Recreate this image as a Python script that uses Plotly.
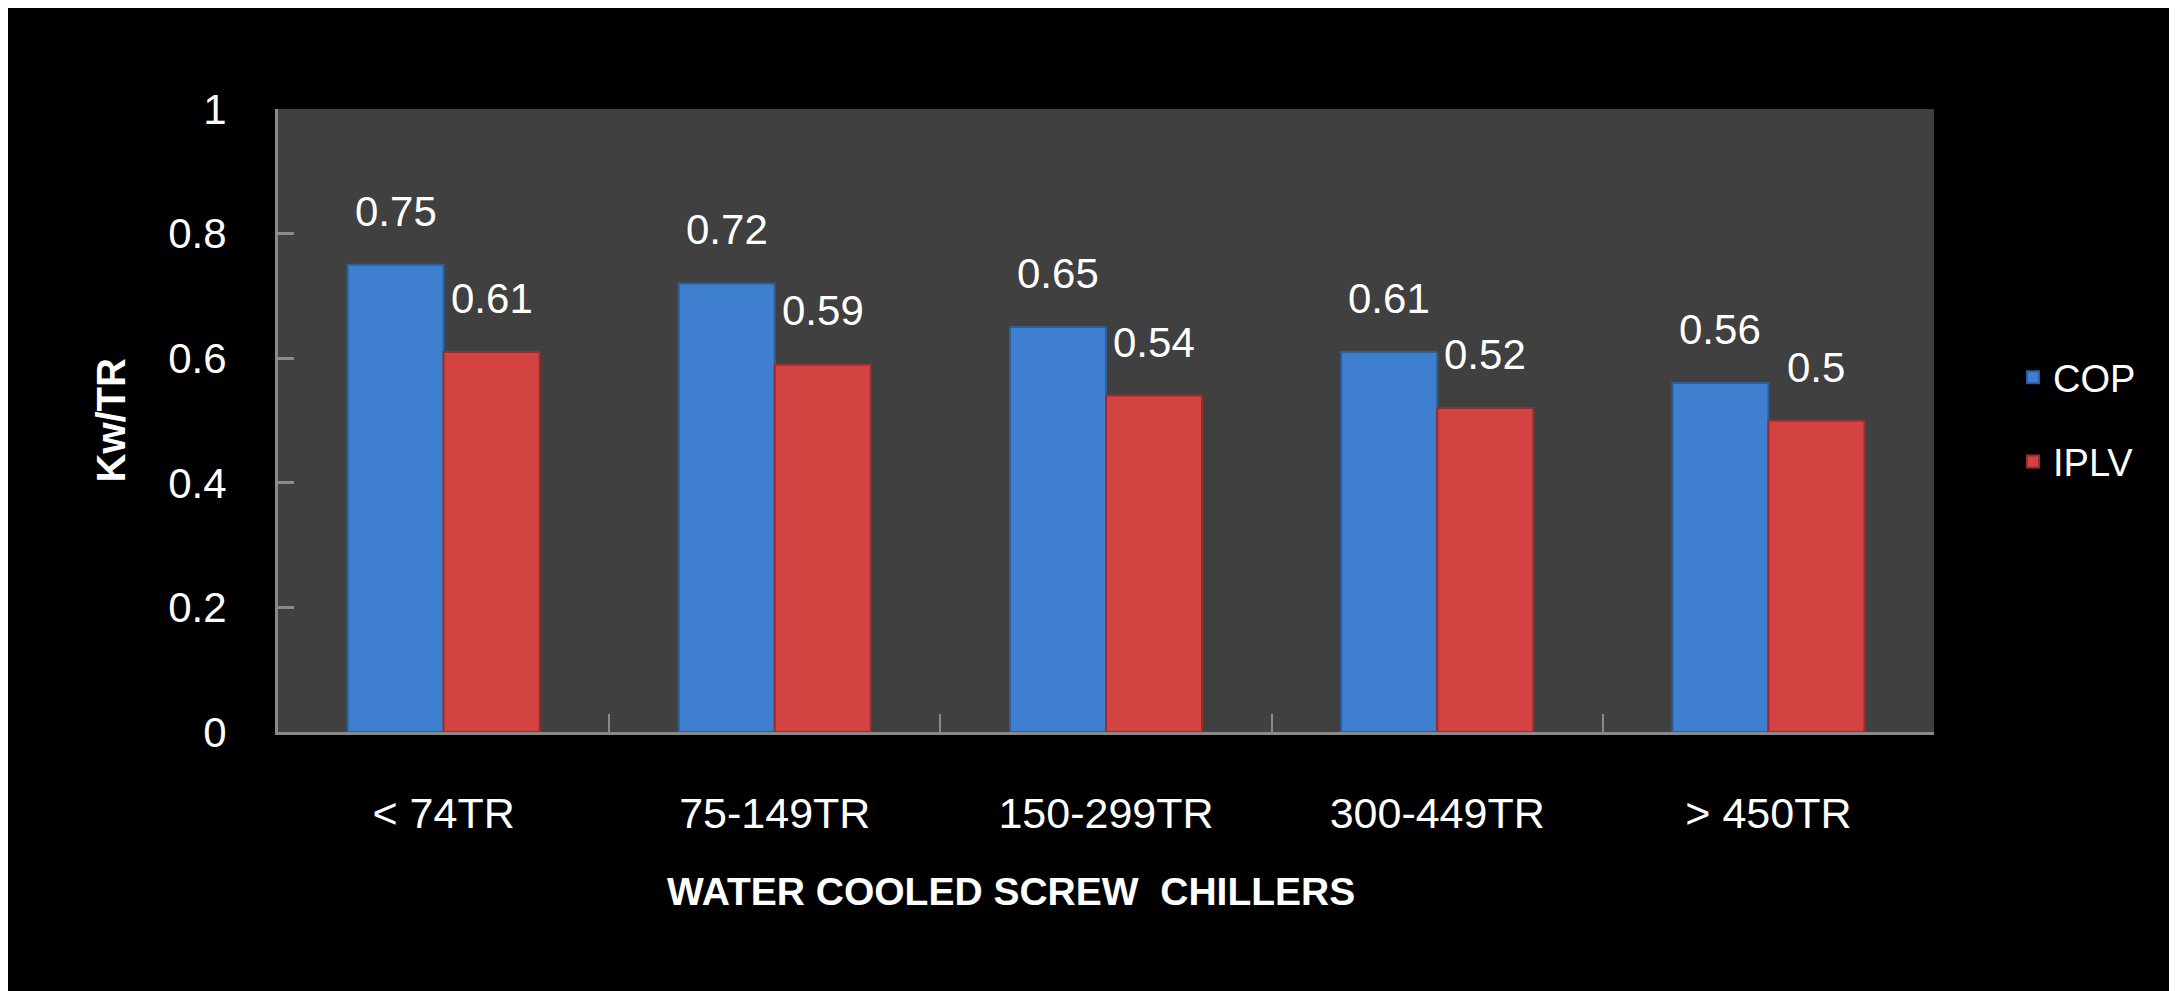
import plotly.graph_objects as go

categories = ["< 74TR", "75-149TR", "150-299TR", "300-449TR", "> 450TR"]
cop = [0.75, 0.72, 0.65, 0.61, 0.56]
iplv = [0.61, 0.59, 0.54, 0.52, 0.50]
y_ticks = [0, 0.2, 0.4, 0.6, 0.8, 1]

W, H = 2177, 991
ML, MR, MT, MB = 270, 251, 101, 267
PLOT_W = W - ML - MR
PLOT_H = H - MT - MB
BARGAP = 0.42
FONT = "Liberation Sans"
AXIS_GRAY = "#8a8a8a"
BLUE, BLUE_EDGE = "#3f7fd0", "#2d5e9c"
RED, RED_EDGE = "#d24341", "#9a2c2b"

fig = go.Figure()
for name, vals, color, edge in (("COP", cop, BLUE, BLUE_EDGE), ("IPLV", iplv, RED, RED_EDGE)):
    fig.add_trace(go.Bar(
        name=name, x=categories, y=vals, legendgroup=name,
        marker=dict(color=color, line=dict(color=edge, width=2)),
    ))

# value labels sit a little above each bar
bar_px = PLOT_W / len(categories) * (1 - BARGAP) / 2
annotations = []
for series, shift in ((cop, -bar_px / 2), (iplv, bar_px / 2)):
    for cat, val in zip(categories, series):
        annotations.append(dict(
            x=cat, y=val, xref="x", yref="y", text=f"{val:g}",
            showarrow=False, yanchor="bottom", xshift=shift, yshift=28,
            font=dict(family=FONT, size=42, color="white"),
        ))

annotations.append(dict(
    text="<b>Kw/TR</b>", textangle=-90, showarrow=False,
    xref="paper", yref="paper", x=(102 - ML) / PLOT_W, y=0.5,
    xanchor="center", yanchor="middle",
    font=dict(family=FONT, size=40, color="white"),
))
annotations.append(dict(
    text="<b>WATER COOLED SCREW  CHILLERS</b>", showarrow=False,
    xref="paper", yref="paper", x=(1003 - ML) / PLOT_W, y=-(884 - MT - PLOT_H) / PLOT_H,
    xanchor="center", yanchor="middle",
    font=dict(family=FONT, size=39, color="white"),
))

fig.update_layout(
    width=W, height=H,
    margin=dict(l=ML, r=MR, t=MT, b=MB),
    paper_bgcolor="black", plot_bgcolor="#404040",
    barmode="group", bargap=BARGAP, bargroupgap=0,
    font=dict(family=FONT, size=42, color="white"),
    showlegend=True,
    legend=dict(
        x=(2005 - ML) / PLOT_W, xanchor="left",
        y=1 - (338 - MT) / PLOT_H, yanchor="top",
        font=dict(family=FONT, size=38, color="white"),
        bgcolor="rgba(0,0,0,0)", traceorder="grouped", tracegroupgap=32,
    ),
    annotations=annotations,
)
fig.update_xaxes(
    showline=True, linecolor=AXIS_GRAY, linewidth=3, showgrid=False,
    ticks="inside", tickson="boundaries", ticklen=18, tickwidth=2, tickcolor=AXIS_GRAY,
    ticklabelstandoff=41, tickfont=dict(family=FONT, size=43, color="white"),
)
fig.update_yaxes(
    range=[0, 1], tickvals=y_ticks, showline=True, linecolor=AXIS_GRAY, linewidth=3,
    showgrid=False, zeroline=False,
    ticks="inside", ticklen=16, tickwidth=3, tickcolor=AXIS_GRAY,
    ticklabelstandoff=40, tickfont=dict(family=FONT, size=42, color="white"),
)

fig.write_html("out.html")
